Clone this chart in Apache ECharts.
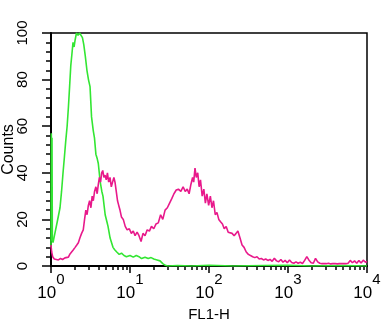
<!DOCTYPE html>
<html>
<head>
<meta charset="utf-8">
<script src="https://cdn.jsdelivr.net/npm/echarts@6/dist/echarts.min.js"></script>
<style>
  html, body { margin: 0; padding: 0; background: #fff; }
  #myChart { width: 388px; height: 330px; }
</style>
</head>
<body>
<div id="myChart"></div>
<script>
// axis ticks
const yTicks = [0, 20, 40, 60, 80, 100]
const xMinorTicks = [2, 3, 4, 5, 6, 7, 8, 9, 20, 30, 40, 50, 60, 70, 80, 90,
  200, 300, 400, 500, 600, 700, 800, 900, 2000, 3000, 4000, 5000, 6000, 7000, 8000, 9000]

// green histogram (FL1-H, counts)
const greenX = [1, 1.01, 1.02, 1.03, 1.04, 1.06, 1.12, 1.2, 1.3, 1.36, 1.42, 1.48, 1.54, 1.6, 1.66, 1.72,
  1.78, 1.84, 1.9, 1.96, 2.02, 2.1, 2.2, 2.3, 2.4, 2.5, 2.6, 2.72, 2.85, 2.98, 3.12, 3.26, 3.43, 3.55,
  3.7, 3.85, 3.97, 4.2, 4.4, 4.55, 4.85, 5.1, 5.27, 5.6, 6.09, 6.4, 6.8, 7.3, 7.8, 8.4, 9, 10, 11, 12,
  13, 14, 15.5, 17, 18.5, 20, 22, 24, 26, 28, 30, 40, 60, 100, 200, 500, 1000, 2000, 5000, 10000]
const greenY = [8, 57, 30, 55, 12, 10, 14, 19, 25, 32, 40, 47, 54, 60, 68, 77,
  86, 91, 96, 94, 97, 100, 99, 100, 100, 98, 95, 90, 84, 80, 77, 64, 58, 55,
  48, 46, 44, 36, 32, 30, 22, 19, 17, 12, 8, 7, 6, 5, 5.5, 4.5, 4, 4.5, 3.8, 4.5,
  4, 3.2, 3.8, 3.2, 3.6, 3, 2.6, 2.2, 1, 0.3, 0, 0.2, 0, 0.3, 0, 0.2, 0.3, 0, 0.2, 0]

// magenta histogram
const pinkX = [1, 1.02, 1.05, 1.1, 1.16, 1.24, 1.32, 1.4, 1.5, 1.58, 1.66, 1.74, 1.83, 1.92, 2.02, 2.12,
  2.22, 2.32, 2.44, 2.56, 2.66, 2.76, 2.86, 2.97, 3.08, 3.2, 3.32, 3.43, 3.56, 3.7, 3.84, 3.97, 4.1,
  4.24, 4.38, 4.52, 4.67, 4.83, 5, 5.18, 5.37, 5.58, 5.8, 6.02, 6.25, 6.46, 6.7, 6.95, 7.2, 7.47, 7.8,
  8.22, 8.7, 9.2, 9.8, 10.4, 11, 11.6, 12.3, 13, 13.8, 14.6, 15.5, 16.5, 17.6, 18.7, 20, 21.3, 22.8,
  24.4, 26, 27.8, 29.7, 31.7, 33.9, 36, 38.5, 41, 44, 47, 50, 53, 56, 59, 62, 64, 66.5, 69, 72, 75,
  78, 82, 86, 90, 94, 99, 104, 109, 114, 120, 126, 133, 140, 148, 156, 165, 175, 185, 196, 208, 220,
  232, 247, 262, 278, 296, 315, 335, 357, 380, 405, 432, 460, 490, 522, 556, 592, 630, 672, 716, 762,
  812, 865, 920, 980, 1045, 1113, 1185, 1262, 1345, 1432, 1526, 1625, 1731, 1844, 1965, 2093, 2230,
  2375, 2530, 2695, 2871, 3059, 3258, 3471, 3698, 3939, 4196, 4470, 4762, 5073, 5404, 5757, 6133,
  6533, 6960, 7414, 7898, 8414, 8963, 9548, 10000]
const pinkY = [9, 6, 4, 3, 2.5, 2.6, 3.2, 2.8, 3.5, 4.2, 3.8, 5.2, 5.6, 7, 8, 9,
  10, 12, 14, 15.5, 20, 24, 22, 26, 28, 25, 30, 28, 32, 34, 31, 35, 38,
  36, 40, 41, 38, 39, 37, 40, 36, 38, 34, 36, 38, 36, 32, 28, 26, 24, 21,
  20, 17, 15.5, 16, 14, 15, 13, 14.5, 13, 10.5, 14, 13, 15.5, 15, 17, 16, 18, 18.5,
  22, 20, 24, 25, 27, 29, 31, 32.6, 33, 32, 34, 32, 33, 31, 35, 38, 36, 42, 38, 40, 34,
  37, 30, 33, 27, 31, 26, 30, 25, 28, 22, 23, 20, 19, 18, 16, 17, 14.5, 15, 14, 13, 14,
  15, 12, 9, 8, 6, 5, 4.5, 4, 3.6, 4, 3, 3.2, 2.6, 3, 2.4, 2.8, 2, 3.3, 2.2, 1.8,
  2.8, 1.6, 2.4, 1.4, 2.6, 1.5, 1.2, 1.8, 1.2, 1.6, 1.1, 2.4, 4, 2.5, 1.4, 1.2, 3.3,
  1.8, 1.2, 1, 1.1, 1, 1.2, 0.9, 1, 1.1, 0.9, 1, 1.1, 1, 1, 1.2, 2.4,
  1.4, 2.2, 1.2, 2.4, 1.3, 2.5, 1.6, 2]

const font = 'Liberation Sans, Arial, sans-serif'

const pairs = (xs, ys) => xs.map((x, i) => [x, ys[i]])

const myChart = echarts.init(document.getElementById('myChart'))
const option = {
  animation: false,
  backgroundColor: '#fff',
  grid: {
    left: 51, right: 21, top: 33, bottom: 64,
    show: true, borderColor: '#000', borderWidth: 1.5,
    outerBoundsMode: 'none'
  },
  xAxis: [{
    type: 'log',
    logBase: 10,
    min: 1,
    max: 10000,
    position: 'bottom',
    name: 'FL1-H',
    nameLocation: 'middle',
    nameGap: 31,
    nameTextStyle: { color: '#000', fontSize: 15, fontFamily: font },
    axisLine: { lineStyle: { color: '#000', width: 2 } },
    axisTick: { length: 7, lineStyle: { color: '#000', width: 1.5 } },
    splitLine: { show: false },
    axisLabel: {
      margin: 6,
      formatter: (v) => '{b|10}{s|' + Math.round(Math.log10(v)) + '}',
      rich: {
        b: { fontSize: 17, lineHeight: 30, verticalAlign: 'bottom', color: '#000', fontFamily: font },
        s: { fontSize: 15, lineHeight: 14, verticalAlign: 'top', color: '#000', fontFamily: font }
      }
    }
  }, {
    type: 'value',
    min: 0,
    max: 4,
    position: 'bottom',
    axisLine: { show: false },
    axisLabel: { show: false },
    splitLine: { show: false },
    axisTick: {
      length: 4,
      customValues: xMinorTicks.map(v => Math.log10(v)),
      lineStyle: { color: '#000', width: 1.5 }
    }
  }],
  yAxis: {
    type: 'value',
    min: 0,
    max: 100,
    interval: 20,
    name: 'Counts',
    nameLocation: 'middle',
    nameRotate: 90,
    nameGap: 34,
    nameMoveOverlap: false,
    nameTextStyle: { color: '#000', fontSize: 16, fontFamily: font },
    axisLine: { show: true, lineStyle: { color: '#000', width: 2 } },
    axisTick: { show: true, length: 9, lineStyle: { color: '#000', width: 1.5 } },
    minorTick: { show: true, splitNumber: 5, length: 5, lineStyle: { color: '#000', width: 1.5 } },
    splitLine: { show: false },
    axisLabel: {
      rotate: 90,
      margin: 21,
      color: '#000',
      fontSize: 15,
      fontFamily: font,
      formatter: (v) => yTicks.includes(v) ? String(v) : ''
    }
  },
  series: [{
    name: 'control',
    type: 'line',
    xAxisIndex: 0,
    data: pairs(greenX, greenY),
    showSymbol: false,
    lineStyle: { color: '#33e633', width: 1.6 },
    z: 2
  }, {
    name: 'stained',
    type: 'line',
    xAxisIndex: 0,
    data: pairs(pinkX, pinkY),
    showSymbol: false,
    lineStyle: { color: '#e8198b', width: 1.6 },
    z: 3
  }]
}
myChart.setOption(option)
</script>
</body>
</html>
